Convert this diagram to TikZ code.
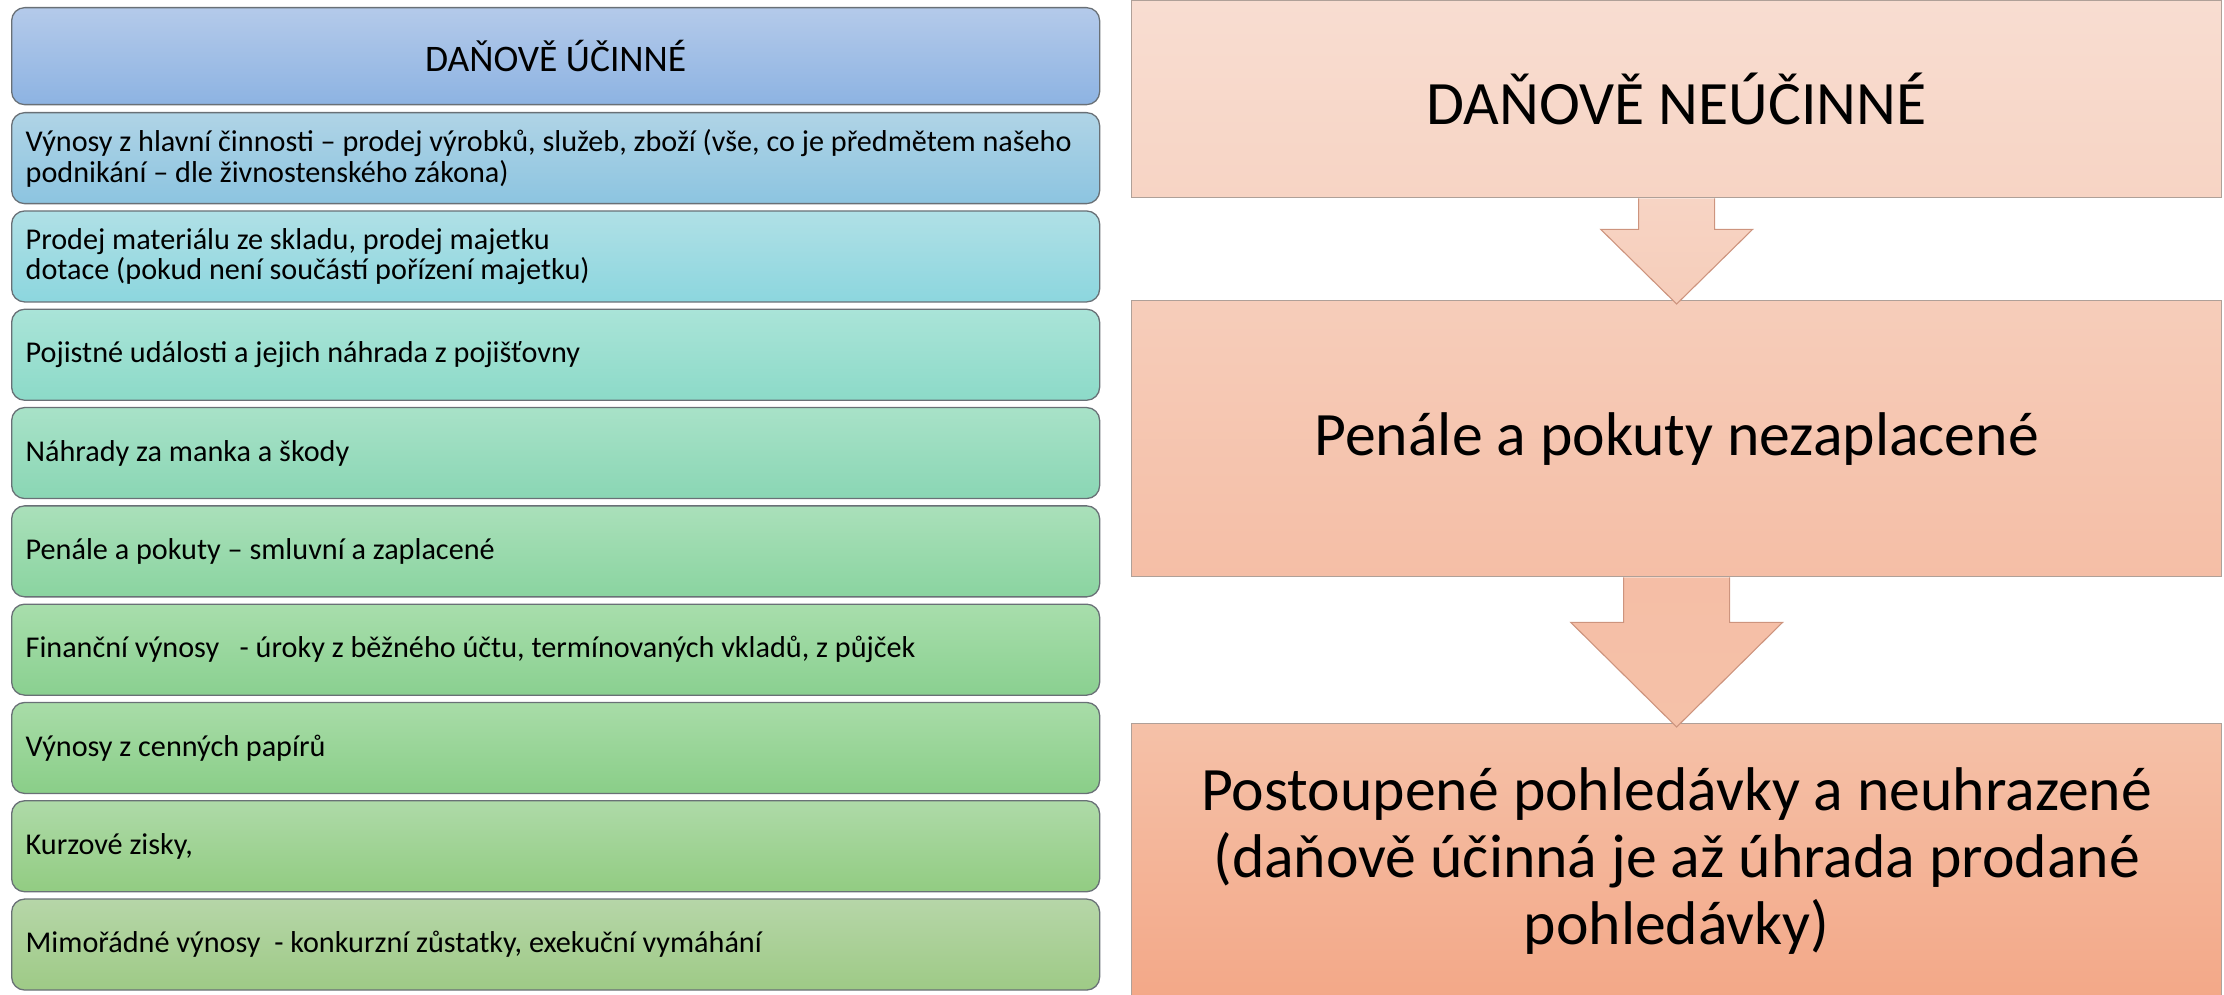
\documentclass[tikz,border=0pt]{standalone}
\usepackage{fontspec}
\setmainfont{Carlito}
\usetikzlibrary{calc}
\hyphenpenalty=10000
\exhyphenpenalty=10000
\definecolor{hdT}{RGB}{180,202,234}\definecolor{hdB}{RGB}{141,179,226}
\definecolor{aT}{RGB}{176,212,230}\definecolor{aB}{RGB}{140,196,224}
\definecolor{bT}{RGB}{176,224,230}\definecolor{bB}{RGB}{140,214,222}
\definecolor{cT}{RGB}{170,228,216}\definecolor{cB}{RGB}{140,218,200}
\definecolor{dT}{RGB}{168,226,200}\definecolor{dB}{RGB}{138,214,180}
\definecolor{eT}{RGB}{170,224,186}\definecolor{eB}{RGB}{138,212,160}
\definecolor{fT}{RGB}{168,222,172}\definecolor{fB}{RGB}{138,208,144}
\definecolor{gT}{RGB}{168,220,168}\definecolor{gB}{RGB}{138,206,136}
\definecolor{hT}{RGB}{174,218,168}\definecolor{hB}{RGB}{146,204,130}
\definecolor{iT}{RGB}{182,214,168}\definecolor{iB}{RGB}{158,202,134}
\definecolor{p1T}{RGB}{248,221,209}\definecolor{p1B}{RGB}{247,212,196}
\definecolor{p2T}{RGB}{246,205,186}\definecolor{p2B}{RGB}{245,190,166}
\definecolor{p3T}{RGB}{245,193,168}\definecolor{p3B}{RGB}{243,168,136}
\definecolor{leftline}{RGB}{105,112,118}
\definecolor{rightline}{RGB}{175,160,152}
\definecolor{arrowline}{RGB}{205,148,126}
\tikzset{
  lbox/.style={draw=leftline, line width=1.3pt, rounded corners=13pt, rectangle,
    anchor=north west, minimum width=1088pt, minimum height=91pt, inner xsep=14pt,
    text width=1060pt, align=flush left,
    font=\fontsize{30.2}{30.5}\selectfont},
  hbox/.style={lbox, minimum height=97pt, align=flush center, font=\fontsize{37.5}{40}\selectfont},
  rbox/.style={draw=rightline, line width=1.3pt, rectangle, anchor=north west,
    minimum width=1090pt, text width=1060pt, align=flush center,
    font=\fontsize{61.7}{67}\selectfont},
  downarrow/.style={draw=arrowline, line width=1.1pt, line join=miter}
}
\begin{document}
\begin{tikzpicture}[x=1pt,y=-1pt]
\useasboundingbox (0,0) rectangle (2224,995);
% left column
\node[hbox, top color=hdT, bottom color=hdB] (h) at (11,7) {DAŇOVĚ ÚČINNÉ};
\node[lbox, top color=aT, bottom color=aB] (l1) at (11,112) {Výnosy z hlavní činnosti – prodej výrobků, služeb, zboží (vše, co je předmětem našeho podnikání – dle živnostenského zákona)};
\node[lbox, top color=bT, bottom color=bB] (l2) at (11,210.3) {Prodej materiálu ze skladu, prodej majetku\\dotace (pokud není součástí pořízení majetku)};
\node[lbox, top color=cT, bottom color=cB] (l3) at (11,308.6) {Pojistné události a jejich náhrada z pojišťovny};
\node[lbox, top color=dT, bottom color=dB] (l4) at (11,406.9) {Náhrady za manka a škody};
\node[lbox, top color=eT, bottom color=eB] (l5) at (11,505.2) {Penále a pokuty – smluvní a zaplacené};
\node[lbox, top color=fT, bottom color=fB] (l6) at (11,603.5) {Finanční výnosy \ \ - úroky z běžného účtu, termínovaných vkladů, z půjček};
\node[lbox, top color=gT, bottom color=gB] (l7) at (11,701.8) {Výnosy z cenných papírů};
\node[lbox, top color=hT, bottom color=hB] (l8) at (11,800.1) {Kurzové zisky,};
\node[lbox, top color=iT, bottom color=iB] (l9) at (11,898.4) {Mimořádné výnosy \ - konkurzní zůstatky, exekuční vymáhání};
% right column
\node[rbox, minimum height=197pt, top color=p1T, bottom color=p1B] (r1) at (1131,0) {DAŇOVĚ NEÚČINNÉ};
\node[rbox, minimum height=276pt, top color=p2T, bottom color=p2B] (r2) at (1131,300) {Penále a pokuty nezaplacené};
\node[rbox, minimum height=274pt, top color=p3T, bottom color=p3B] (r3) at (1131,723) {Postoupené pohledávky a neuhrazené\\(daňově účinná je až úhrada prodané\\pohledávky)};
% arrows
\draw[downarrow, top color=p1B, bottom color=p2T]
  ($(r1.south)+(-38,0)$) -- ($(r1.south)+(-38,31)$) -- ($(r1.south)+(-76,31)$)
  -- ($(r2.north)+(0,4)$) -- ($(r1.south)+(76,31)$) -- ($(r1.south)+(38,31)$)
  -- ($(r1.south)+(38,0)$);
\draw[downarrow, top color=p2B, bottom color=p3T]
  ($(r2.south)+(-53,0)$) -- ($(r2.south)+(-53,45)$) -- ($(r2.south)+(-106,45)$)
  -- ($(r3.north)+(0,4)$) -- ($(r2.south)+(106,45)$) -- ($(r2.south)+(53,45)$)
  -- ($(r2.south)+(53,0)$);
\end{tikzpicture}
\end{document}
